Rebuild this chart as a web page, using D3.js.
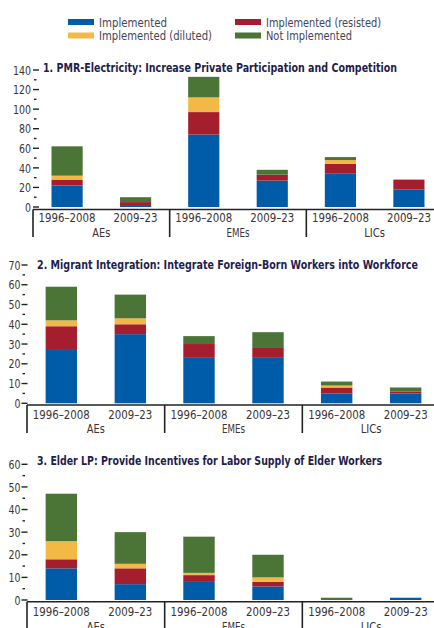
<!DOCTYPE html>
<html>
<head>
<meta charset="utf-8">
<script src="https://cdn.jsdelivr.net/npm/d3@7"></script>
<style>
  html, body { margin: 0; padding: 0; background: #fff; }
  svg { display: block; }
  text { font-family: "DejaVu Sans Condensed", "DejaVu Sans", sans-serif; font-stretch: condensed; }
</style>
</head>
<body>
<svg id="chart" width="434" height="628"></svg>
<script>
// ---------------- DATA ----------------
const groups = ["AEs", "EMEs", "LICs"];
const periods = ["1996–2008", "2009–23"];
const seriesNames = ["Implemented", "Implemented (resisted)", "Implemented (diluted)", "Not Implemented"];
const seriesColors = ["#005ba9", "#a51e2e", "#f3b947", "#4a7536"];

const titles = [
  "1. PMR-Electricity: Increase Private Participation and Competition",
  "2. Migrant Integration: Integrate Foreign-Born Workers into Workforce",
  "3. Elder LP: Provide Incentives for Labor Supply of Elder Workers"
];
const yMaxes = [140, 70, 60];
const yMajorSteps = [20, 10, 10];

// rows: AEs 1996–2008, AEs 2009–23, EMEs 1996–2008, EMEs 2009–23, LICs 1996–2008, LICs 2009–23
// cols: Implemented, Implemented (resisted), Implemented (diluted), Not Implemented
const pmrElectricity = [
  [22, 6, 4, 30],
  [2, 3, 0, 5],
  [74, 23, 15, 21],
  [27, 6, 0, 5],
  [34, 10, 4, 3],
  [18, 10, 0, 0]
];
const migrantIntegration = [
  [27, 12, 3, 17],
  [35, 5, 3, 12],
  [23, 7, 0, 4],
  [23, 5, 0, 8],
  [5, 3, 1, 2],
  [5, 1, 0, 2]
];
const elderLP = [
  [14, 4, 8, 21],
  [7, 7, 2, 14],
  [8, 3, 1, 16],
  [6, 2, 2, 10],
  [0, 0, 0, 1],
  [1, 0, 0, 0]
];
const panelValues = [pmrElectricity, migrantIntegration, elderLP];

// ---------------- LAYOUT ----------------
const layouts = [
  { L: 33, W: 410, y0: 207, yTop: 70, axisY: 209.5, tickIn: true, labelX: 31, titleX: 43, titleY: 71.5, titleW: 354, catY: 222, grpY: 237, sepB: 237 },
  { L: 27, W: 413, y0: 403.3, yTop: 265, axisY: 405, tickIn: false, labelX: 20.5, titleX: 37, titleY: 268.5, titleW: 381, catY: 418.5, grpY: 433, sepB: 433 },
  { L: 27, W: 413, y0: 600, yTop: 464.3, axisY: 601.8, tickIn: false, labelX: 20.5, titleX: 37, titleY: 464.5, titleW: 345, catY: 615.5, grpY: 630.5, sepB: 640 }
];
const legendW = { "Implemented": 68, "Implemented (resisted)": 115, "Implemented (diluted)": 113, "Not Implemented": 86 };
const periodW = { "1996–2008": 57, "2009–23": 44 };
const groupW = { "AEs": 18, "EMEs": 23, "LICs": 21 };

const svg = d3.select("#chart");
const textColor = "#3b3434";
const titleColor = "#1f1d4d";
const color = d3.scaleOrdinal().domain(seriesNames).range(seriesColors);

// ---------------- LEGEND ----------------
const legX = [68, 235];
const legY = [22, 35.5];
const leg = svg.append("g");
seriesNames.forEach(name => {
  const c = (name === "Implemented" || name === "Implemented (diluted)") ? 0 : 1;
  const r = (name === "Implemented" || name === "Implemented (resisted)") ? 0 : 1;
  const g = leg.append("g").attr("transform", `translate(${legX[c]},${legY[r]})`);
  g.append("rect").attr("x", 0).attr("y", -3).attr("width", 26).attr("height", 6).attr("fill", color(name));
  g.append("text").attr("x", 31).attr("y", 0).attr("dy", "0.36em")
    .attr("font-size", 13).attr("fill", "#454556")
    .attr("textLength", legendW[name]).attr("lengthAdjust", "spacingAndGlyphs")
    .text(name);
});

// ---------------- PANELS ----------------
panelValues.forEach((vals, p) => {
  const lay = layouts[p];
  const g = svg.append("g");

  const y = d3.scaleLinear().domain([0, yMaxes[p]]).range([lay.y0, lay.yTop]);
  const xGroup = d3.scaleBand().domain(groups).range([lay.L, lay.L + lay.W]).padding(0);
  const xInner = d3.scaleBand().domain(periods).range([0, xGroup.bandwidth()])
    .paddingInner(0.545).paddingOuter(0.27);

  const rows = vals.map((v, i) => {
    const o = { group: groups[Math.floor(i / 2)], period: periods[i % 2] };
    seriesNames.forEach((s, j) => o[s] = v[j]);
    return o;
  });
  const stacked = d3.stack().keys(seriesNames)(rows);

  // bars
  g.selectAll("g.layer").data(stacked).join("g")
    .attr("fill", d => color(d.key))
    .selectAll("rect").data(d => d).join("rect")
    .attr("x", d => xGroup(d.data.group) + xInner(d.data.period))
    .attr("width", xInner.bandwidth())
    .attr("y", d => y(d[1]))
    .attr("height", d => Math.max(0, y(d[0]) - y(d[1])));

  // y ticks
  const majors = d3.range(0, yMaxes[p] + 0.001, yMajorSteps[p]);
  const minors = d3.range(yMajorSteps[p] / 2, yMaxes[p], yMajorSteps[p]);
  const tx0 = lay.tickIn ? lay.L : lay.L - 5.5;
  g.selectAll("line.maj").data(majors).join("line")
    .attr("x1", tx0).attr("x2", tx0 + 6)
    .attr("y1", d => y(d)).attr("y2", d => y(d))
    .attr("stroke", "#222").attr("stroke-width", 1.4);
  g.selectAll("line.min").data(minors).join("line")
    .attr("x1", tx0 + 1).attr("x2", tx0 + 3.5)
    .attr("y1", d => y(d)).attr("y2", d => y(d))
    .attr("stroke", "#222").attr("stroke-width", 1.4);
  g.selectAll("text.ylab").data(majors).join("text")
    .attr("x", lay.labelX).attr("y", d => y(d)).attr("dy", "0.36em")
    .attr("text-anchor", "end").attr("font-size", 13).attr("fill", textColor)
    .attr("textLength", d => String(d).length * 6).attr("lengthAdjust", "spacingAndGlyphs")
    .text(d => d);

  // x axis line
  g.append("line").attr("x1", lay.L).attr("x2", lay.L + lay.W)
    .attr("y1", lay.axisY).attr("y2", lay.axisY)
    .attr("stroke", "#222").attr("stroke-width", 1.6);
  const seps = groups.map(d => xGroup(d)).concat([lay.L + lay.W]);
  g.selectAll("line.sep").data(seps).join("line")
    .attr("x1", d => d).attr("x2", d => d)
    .attr("y1", lay.axisY).attr("y2", lay.sepB)
    .attr("stroke", "#222").attr("stroke-width", 1.6);

  // category labels
  g.selectAll("text.cat").data(rows).join("text")
    .attr("x", d => xGroup(d.group) + xInner(d.period) + xInner.bandwidth() / 2)
    .attr("y", lay.catY).attr("text-anchor", "middle")
    .attr("font-size", 13).attr("fill", textColor)
    .attr("textLength", d => periodW[d.period]).attr("lengthAdjust", "spacingAndGlyphs")
    .text(d => d.period);
  g.selectAll("text.grp").data(groups).join("text")
    .attr("x", d => xGroup(d) + xGroup.bandwidth() / 2)
    .attr("y", lay.grpY).attr("text-anchor", "middle")
    .attr("font-size", 13).attr("fill", textColor)
    .attr("textLength", d => groupW[d]).attr("lengthAdjust", "spacingAndGlyphs")
    .text(d => d);

  // title
  g.append("text").attr("x", lay.titleX).attr("y", lay.titleY)
    .attr("font-size", 12.5).attr("font-weight", "bold").attr("fill", titleColor)
    .attr("textLength", lay.titleW).attr("lengthAdjust", "spacingAndGlyphs")
    .text(titles[p]);
});
</script>
</body>
</html>
